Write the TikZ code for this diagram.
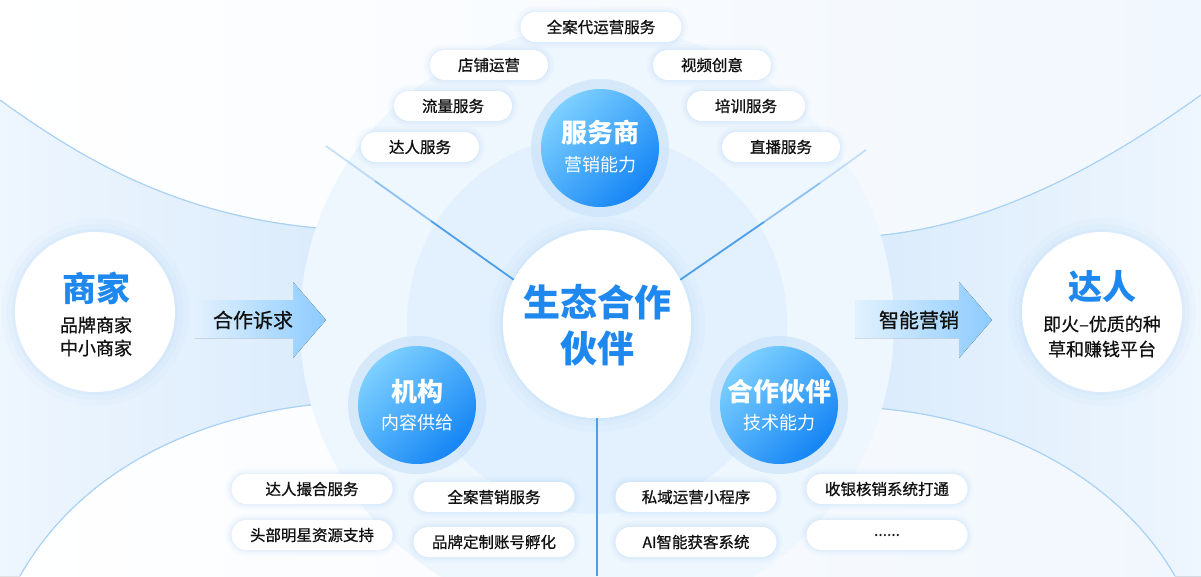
\documentclass[tikz,border=0pt]{standalone}
\usepackage{fontspec}
\setmainfont{Noto Sans CJK SC}
\newfontfamily\medfont[FakeBold=0.8]{Noto Sans CJK SC}
\usetikzlibrary{calc}
\definecolor{bgR}{HTML}{F1F7FE}
\definecolor{funL}{HTML}{EEF6FE}
\definecolor{funM}{HTML}{CDE5FB}
\definecolor{funR}{HTML}{DAEBFC}
\definecolor{curv}{HTML}{A9D2F5}
\definecolor{ringA}{HTML}{EEF6FE}
\definecolor{ringB}{HTML}{E3F0FD}
\definecolor{haloc}{HTML}{CDE5FB}
\definecolor{shcol}{HTML}{9FCDF5}
\definecolor{linec}{HTML}{4C9FE9}
\definecolor{bluetxt}{HTML}{1E88EE}
\definecolor{blA}{HTML}{7DD0FF}
\definecolor{blB}{HTML}{1585F5}
\definecolor{txtd}{HTML}{111111}
\definecolor{arrL}{HTML}{E2F1FE}
\definecolor{arrR}{HTML}{8CCBFF}
\begin{document}
\begin{tikzpicture}[x=1pt,y=-1pt,
 glow/.style={preaction={draw=shcol,line width=12pt,draw opacity=0.05},
              preaction={draw=shcol,line width=7pt,draw opacity=0.08},
              preaction={draw=shcol,line width=3pt,draw opacity=0.12}},
 bigglow/.style={preaction={draw=shcol,line width=28pt,draw opacity=0.05},
              preaction={draw=shcol,line width=16pt,draw opacity=0.07},
              preaction={draw=shcol,line width=6pt,draw opacity=0.1}},
 pill/.style={glow,fill=white,rounded corners=15pt,minimum height=30pt,inner sep=0pt,
              font=\fontsize{15.5}{18}\medfont,text=txtd},
 pillS/.style={pill,minimum width=118pt},
 pillL/.style={pill,minimum width=161pt},
 bluecirc/.style={circle,minimum size=118pt,inner sep=0pt,top color=blA,bottom color=blB,shading angle=45},
 halo/.style={fill=haloc,opacity=0.75},
 whitecirc/.style={circle,fill=white,inner sep=0pt,bigglow},
 conn/.style={draw=linec,line width=1.8pt},
 connmid/.style={draw=linec,line width=1.8pt,draw opacity=0.6},
 connfade/.style={draw=linec,line width=1.8pt,draw opacity=0.3},
 ttl/.style={font=\fontsize{26}{30}\selectfont\bfseries,text=white,inner sep=0pt},
 subt/.style={font=\fontsize{18}{22}\selectfont,text=white,inner sep=0pt},
 bigttl/.style={font=\fontsize{34}{40}\selectfont\bfseries,text=bluetxt,inner sep=0pt},
 ctr/.style={font=\fontsize{37}{44}\selectfont\bfseries,text=bluetxt,inner sep=0pt},
 desc/.style={font=\fontsize{18}{22}\medfont,text=txtd,inner sep=0pt},
 arrtxt/.style={font=\fontsize{20}{24}\medfont,text=txtd,inner sep=0pt},
 arrshape/.style={left color=arrL,right color=arrR}
]
\useasboundingbox (0,0) rectangle (1201,576);
\clip (0,0) rectangle (1201,576);
\fill[left color=white,right color=bgR] (0,0) rectangle (1201,576);

% funnels
\fill[left color=funL,middle color=funM,right color=funR]
  (0,100) .. controls (90,165) and (190,222) .. (345,230) -- (345,402)
  .. controls (200,410) and (80,470) .. (20,576) -- (0,576) -- cycle;
\fill[left color=funR,middle color=funM,right color=funL]
  (855,237) .. controls (990,232) and (1110,160) .. (1201,95) -- (1201,576) -- (1175,576)
  .. controls (1120,480) and (1000,412) .. (855,407) -- cycle;
\draw[curv,line width=1.2pt] (0,100) .. controls (90,165) and (190,222) .. (345,230);
\draw[curv,line width=1.2pt] (345,402) .. controls (200,410) and (80,470) .. (20,576);
\draw[curv,line width=1.2pt] (855,237) .. controls (990,232) and (1110,160) .. (1201,95);
\draw[curv,line width=1.2pt] (855,407) .. controls (1000,412) and (1120,480) .. (1175,576);

% rings
\fill[ringA] (597,324) circle (297);
\fill[ringB] (597,324) circle (190);

% center node
\node[whitecirc,minimum size=188pt] (eco) at (597,324) {};

% connectors
\coordinate (ulm) at (431,221);
\coordinate (uln) at (375,181);
\coordinate (ule) at (326,146);
\coordinate (urm) at (764,222);
\coordinate (urn) at (820,183);
\coordinate (ure) at (866,150);
\coordinate (bte) at (597,576);
\draw[conn] (eco.152) -- (ulm);
\draw[connmid] (ulm) -- (uln);
\draw[connfade] (uln) -- (ule);
\draw[conn] (eco.28) -- (urm);
\draw[connmid] (urm) -- (urn);
\draw[connfade] (urn) -- (ure);
\draw[conn] (eco.south) -- (bte);
\node[circle,fill=white,inner sep=0pt,minimum size=188pt] (ecoC) at (597,324) {};
\node[ctr] (ecoA) at (597,302) {生态合作};
\node[ctr] (ecoB) at (597,348) {伙伴};

% arrows
\fill[arrshape] (195,300) -- (293,300) -- (293,282) -- (326,320) -- (293,358) -- (293,338) -- (195,338) -- cycle;
\node[arrtxt] (req) at (253,320) {合作诉求};
\fill[arrshape] (855,300) -- (959,300) -- (959,282) -- (992,320) -- (959,358) -- (959,338) -- (855,338) -- cycle;
\node[arrtxt] (mkt) at (919,320) {智能营销};

% side circles
\node[whitecirc,minimum size=160pt] (sj) at (95,312) {};
\node[bigttl] (sjA) at (96,288) {商家};
\node[desc] (sjB) at (96,325) {品牌商家};
\node[desc] (sjC) at (96,348) {中小商家};
\node[whitecirc,minimum size=160pt] (dr) at (1102,312) {};
\node[bigttl] (drA) at (1102,287) {达人};
\node[desc] (drB) at (1102,324) {即火–优质的种};
\node[desc] (drC) at (1102,349) {草和赚钱平台};

% blue satellite circles
\fill[halo] (600,148) circle (69);
\node[bluecirc] (fws) at (600,148) {};
\node[ttl] (fwsA) at (600,133) {服务商};
\node[subt] (fwsB) at (600,165) {营销能力};
\fill[halo] (417,405) circle (69);
\node[bluecirc] (jg) at (417,405) {};
\node[ttl] (jgA) at (417,392) {机构};
\node[subt] (jgB) at (417,423) {内容供给};
\fill[halo] (779,405) circle (69);
\node[bluecirc] (hz) at (779,405) {};
\node[ttl] (hzA) at (779,392) {合作伙伴};
\node[subt] (hzB) at (779,423) {技术能力};

% pills top
\node[pillL] (q1) at (601,27) {全案代运营服务};
\node[pillS] (q2) at (489,65) {店铺运营};
\node[pillS] (q3) at (712,65) {视频创意};
\node[pillS] (q4) at (453,106) {流量服务};
\node[pillS] (q5) at (746,106) {培训服务};
\node[pillS] (q6) at (420,147) {达人服务};
\node[pillS] (q7) at (781,147) {直播服务};

% pills bottom
\node[pillL] (b1) at (312,489) {达人撮合服务};
\node[pillL] (b2) at (494,497) {全案营销服务};
\node[pillL] (b3) at (312,535) {头部明星资源支持};
\node[pillL] (b4) at (494,542) {品牌定制账号孵化};
\node[pillL] (b5) at (696,497) {私域运营小程序};
\node[pillL] (b6) at (887,489) {收银核销系统打通};
\node[pillL] (b7) at (696,542) {AI智能获客系统};
\node[pillL] (b8) at (887,535) {......};
\end{tikzpicture}
\end{document}
